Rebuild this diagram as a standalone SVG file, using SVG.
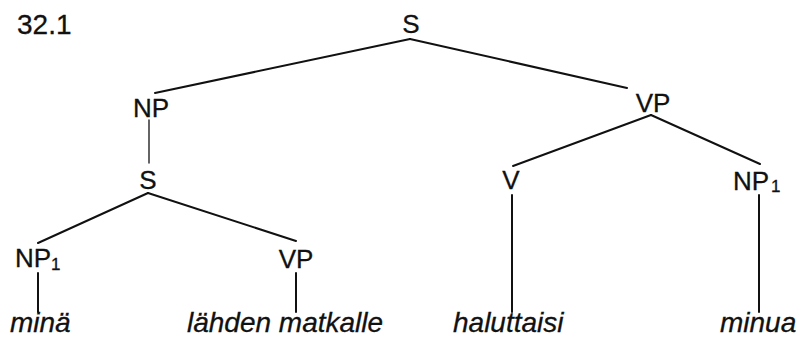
<svg xmlns="http://www.w3.org/2000/svg" width="801" height="337" viewBox="0 0 801 337">
  <style>
    .lbl { font-family: "Liberation Sans", Arial, sans-serif; font-size: 26px; fill: #111; stroke: #111; stroke-width: 0.3; text-anchor: middle; }
    .sub { font-size: 17px; text-anchor: start; }
    .leaf { font-family: "Liberation Sans", Arial, sans-serif; font-size: 28px; font-style: italic; fill: #111; stroke: #111; stroke-width: 0.3; }
    .num { font-family: "Liberation Sans", Arial, sans-serif; font-size: 28px; fill: #111; stroke: #111; stroke-width: 0.3; }
    .edge { stroke: #111; stroke-width: 2; fill: none; stroke-linecap: round; }
    .thin { stroke-width: 1.3; }
  </style>
  <rect width="801" height="337" fill="#fff"/>

  <text class="num" x="17" y="34">32.1</text>

  <!-- tree edges -->
  <g id="edges">
    <line class="edge" x1="410" y1="39" x2="155" y2="93"/>
    <line class="edge" x1="410" y1="39" x2="627" y2="88"/>
    <line class="edge thin" x1="149" y1="120" x2="149" y2="163"/>
    <line class="edge" x1="651" y1="115" x2="513" y2="166"/>
    <line class="edge" x1="651" y1="115" x2="760" y2="164"/>
    <line class="edge" x1="148" y1="193" x2="38" y2="243"/>
    <line class="edge" x1="148" y1="193" x2="296" y2="241"/>
    <line class="edge" x1="38" y1="273" x2="38" y2="312"/>
    <line class="edge" x1="296" y1="273" x2="296" y2="312"/>
    <line class="edge" x1="512" y1="195" x2="512" y2="312"/>
    <line class="edge" x1="759" y1="195" x2="759" y2="312"/>
  </g>

  <g id="s-root"><text class="lbl" x="411" y="33">S</text></g>
  <g id="np"><text class="lbl" x="151" y="117">NP</text></g>
  <g id="vp"><text class="lbl" x="653" y="112">VP</text></g>
  <g id="s-embedded"><text class="lbl" x="148" y="189">S</text></g>
  <g id="v"><text class="lbl" x="511" y="189">V</text></g>
  <g id="np1-object">
    <text class="lbl" x="751" y="190">NP</text>
    <text class="lbl sub" x="771" y="192">1</text>
  </g>
  <g id="np1-subject">
    <text class="lbl" x="33" y="267">NP</text>
    <text class="lbl sub" x="51" y="270">1</text>
  </g>
  <g id="vp-embedded"><text class="lbl" x="296" y="268">VP</text></g>

  <g id="leaf-mina"><text class="leaf" x="10" y="332">minä</text></g>
  <g id="leaf-lahden-matkalle"><text class="leaf" x="187" y="332">lähden matkalle</text></g>
  <g id="leaf-haluttaisi"><text class="leaf" x="453" y="332">haluttaisi</text></g>
  <g id="leaf-minua"><text class="leaf" x="720" y="332">minua</text></g>
</svg>
